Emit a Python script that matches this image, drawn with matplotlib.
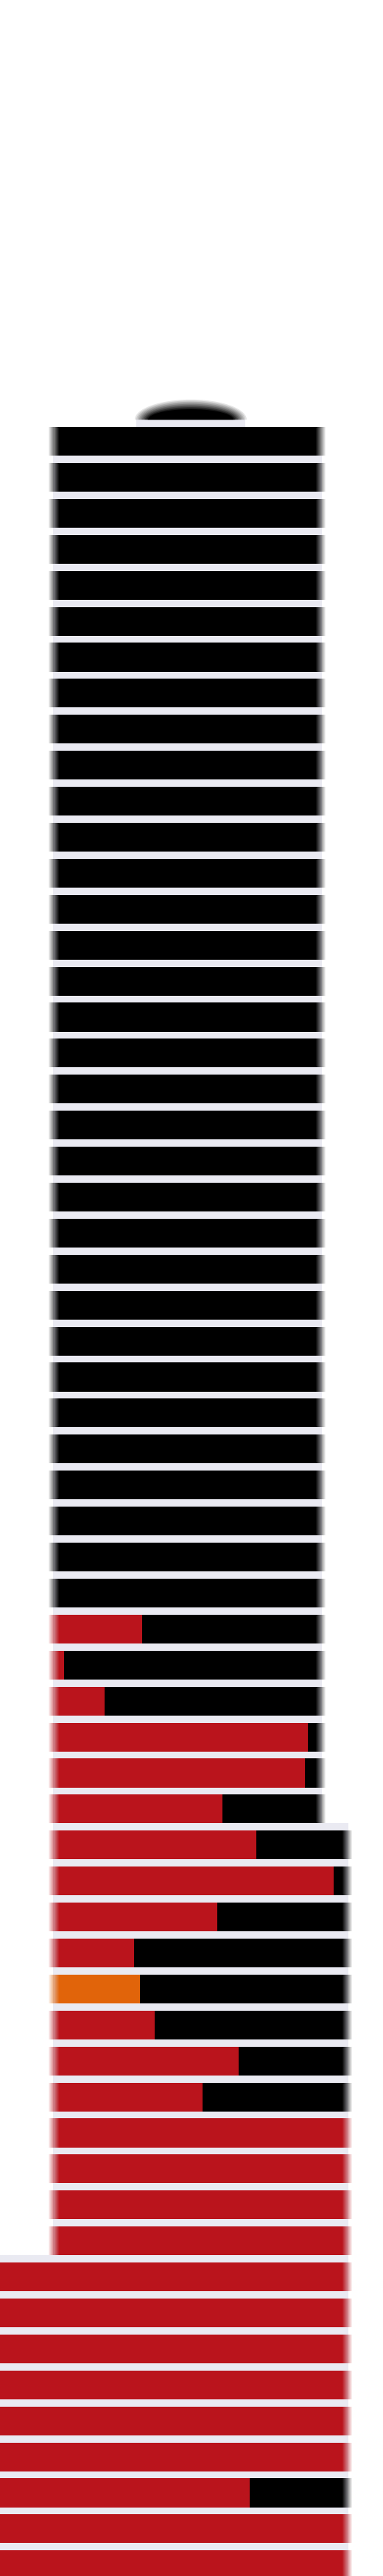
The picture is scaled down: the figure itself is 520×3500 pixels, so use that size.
import numpy as np
import matplotlib
matplotlib.use("Agg")
import matplotlib.pyplot as plt
from matplotlib.patches import Polygon

# one entry per floor, top (1) to bottom (60); x in chart units (0..520)
rows = list(range(1, 61))
row_start = [72] * 51 + [0] * 9
row_end = [437] * 39 + [473] * 21
fill_end = [72] * 33 + [193, 87, 142, 418, 414, 302, 348, 453, 295, 182, 190, 210, 324, 275,
                        473, 473, 473, 473,
                        473, 473, 473, 473, 473, 473,
                        339, 473, 473]
highlight_rows = [44]

# dome on top of the stack
dome_left, dome_right = 185, 333

RED = "#BA141C"
ORANGE = "#E1640A"
BLACK = "#000000"
GAP = "#EAEAF2"

fig = plt.figure(figsize=(5.2, 35), dpi=100)
ax = fig.add_axes([0, 0, 1, 1])
ax.set_xlim(0, 520)
ax.set_ylim(60.31, -11.26)
ax.axis("off")

H = 0.8
FADE_L, FADE_LOUT = 9, 6
FADE_R, FADE_ROUT = 9, 5
NSTEP = 14


def ramp(y, x0, x1, color, rising):
    # overlapping layers, alpha 1/(N-j+1) -> linear build-up without seams
    w = (x1 - x0) / NSTEP
    for j in range(1, NSTEP + 1):
        a = 1.0 / (NSTEP - j + 1)
        if rising:
            left, width = x0 + (j - 1) * w, x1 - (x0 + (j - 1) * w)
        else:
            left, width = x0, (x1 - (j - 1) * w) - x0
        ax.barh(y, width, left=left, height=H, color=color, alpha=a, linewidth=0, zorder=3)


# gap bands (background between floors)
for k, s, e in zip(rows, row_start, row_end):
    if k == 1:
        continue
    ax.barh(k - 0.1, e - s, left=s, height=1.0, color=GAP, linewidth=0, zorder=1)
ax.barh(0.5, dome_right - dome_left, left=dome_left, height=0.2, color=GAP, linewidth=0, zorder=1)

for k, s, e, f in zip(rows, row_start, row_end, fill_end):
    c = ORANGE if k in highlight_rows else RED
    a = s + FADE_L if s > 0 else s
    b = e - FADE_R
    if f > a:
        ax.barh(k, min(f, b) - a, left=a, height=H, color=c, linewidth=0, zorder=2)
    if f < b:
        x0 = max(f, a)
        ax.barh(k, b - x0, left=x0, height=H, color=BLACK, linewidth=0, zorder=2)
    if s > 0:
        ramp(k, s - FADE_LOUT, a, c if f > a else BLACK, True)
    ramp(k, b, e + FADE_ROUT, BLACK if f < b else c, False)

# dome, soft edged
cx = (dome_left + dome_right) / 2
t = np.linspace(0, np.pi, 80)
ND = 10
for j in range(1, ND + 1):
    hw = 76 - 2.0 * (j - 1)
    hh = 0.56 - 0.03 * (j - 1)
    pts = np.column_stack([cx + hw * np.cos(t), 0.4 - hh * np.sin(t)])
    ax.add_patch(Polygon(pts, closed=True, color=BLACK, alpha=1.0 / (ND - j + 1),
                         linewidth=0, zorder=2))

fig.savefig("out.png", dpi=100)
